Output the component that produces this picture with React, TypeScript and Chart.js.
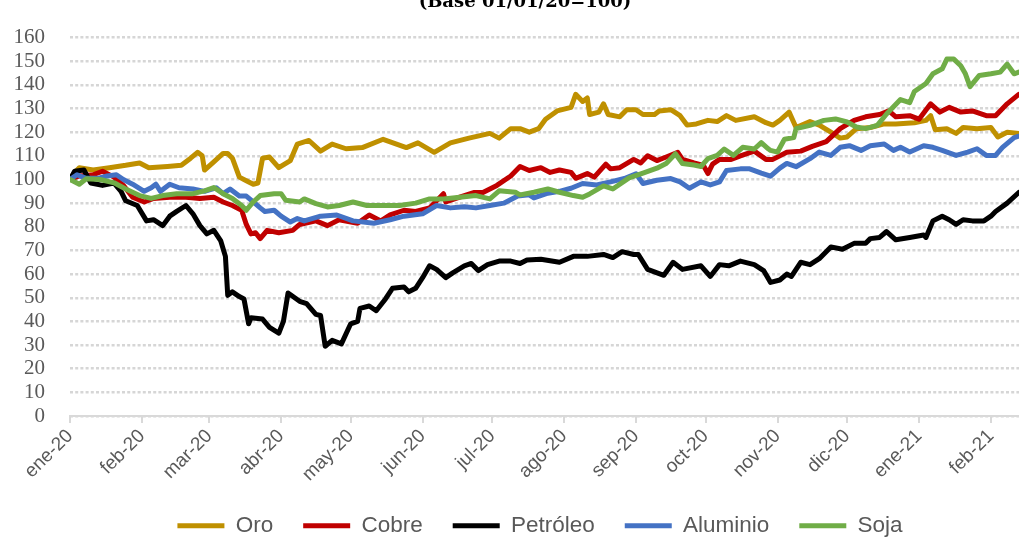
import React, { useEffect, useRef } from "react";
import { Chart, registerables } from "chart.js";

Chart.register(...registerables);

const titleText = "(Base 01/01/20=100)";

const monthLabels = [
  "ene-20", "feb-20", "mar-20", "abr-20", "may-20", "jun-20", "jul-20",
  "ago-20", "sep-20", "oct-20", "nov-20", "dic-20", "ene-21", "feb-21",
];
// days since 01/01/2020 for the first day of each month
const monthStartDays = monthLabels.map(
  (_, i) => (Date.UTC(2020, i, 1) - Date.UTC(2020, 0, 1)) / 86400000
);

const yTicks = [0, 10, 20, 30, 40, 50, 60, 70, 80, 90, 100, 110, 120, 130, 140, 150, 160];

// Oro
const oroDays = [0, 2, 4, 10, 17, 24, 30, 34, 42, 48, 52, 55, 57, 58, 62, 66, 68, 70, 73, 76, 79, 81, 83, 86, 90, 95, 98, 103, 108, 113, 119, 126, 135, 145, 150, 157, 164, 172, 181, 185, 190, 194, 198, 202, 205, 210, 216, 218, 221, 223, 224, 228, 230, 232, 237, 240, 244, 247, 252, 254, 259, 263, 266, 270, 275, 279, 283, 287, 295, 300, 303, 306, 310, 313, 319, 323, 328, 332, 335, 339, 345, 351, 356, 364, 369, 371, 373, 378, 382, 385, 391, 397, 400, 404, 409];
const oroValues = [100, 103, 105, 104, 105, 106, 107, 105, 105.5, 106, 109, 111.5, 110, 104, 107.5, 111, 111, 109, 101, 99.5, 98, 98.5, 109, 109.5, 105, 108, 115, 116.5, 112, 115, 113, 113.5, 117, 113.5, 115.5, 111.5, 115.5, 117.5, 119.5, 117.5, 121.5, 121.5, 120, 121.5, 125.5, 129, 130.5, 136, 133, 134.5, 127.5, 128.5, 132, 127.5, 126.5, 129.5, 129.5, 127.5, 127.5, 129, 129.5, 127, 123, 123.5, 125, 124.5, 127, 125, 126.5, 124, 123, 125, 128.5, 122, 124.5, 123, 120, 117.5, 118, 121.5, 122, 123.5, 123.5, 124, 125, 127, 121, 121.5, 119.5, 122, 121.5, 122, 118, 120, 119.5];

// Cobre
const cobreDays = [0, 4, 10, 14, 19, 23, 27, 32, 36, 43, 50, 56, 62, 66, 70, 74, 76, 78, 80, 82, 85, 90, 96, 99, 106, 111, 116, 124, 129, 134, 138, 144, 149, 155, 161, 162, 168, 174, 178, 184, 190, 194, 198, 203, 207, 211, 216, 218, 223, 226, 231, 233, 237, 243, 246, 249, 253, 257, 262, 264, 269, 273, 275, 277, 280, 285, 289, 295, 300, 303, 309, 315, 320, 326, 332, 338, 343, 349, 353, 356, 362, 366, 371, 375, 379, 384, 389, 395, 399, 404, 409];
const cobreValues = [100, 101.5, 102, 103.5, 101, 97.5, 92.5, 90.5, 92, 92.5, 92.5, 92, 92.5, 90.5, 89, 87, 81, 77, 77.5, 75, 78.5, 77.5, 78.5, 81, 82.5, 80.5, 83, 81.5, 85, 82.5, 85, 87, 86.5, 88, 94, 90.5, 92.5, 94.5, 94.5, 97.5, 101.5, 105.5, 103.8, 105, 103, 104, 103, 100.5, 102.5, 101, 106.5, 104.5, 105, 108.5, 107, 110, 108, 109.5, 111.5, 108.5, 107, 106, 102.5, 106.5, 108.5, 108.5, 110, 112, 108.5, 108.5, 111.5, 112, 114, 116, 121.5, 125, 126.5, 127.5, 129, 126.5, 127, 125.5, 132, 128.5, 130.5, 128.5, 129, 127, 127, 132, 136];

// Petróleo
const petroleoDays = [0, 2, 6, 9, 14, 19, 22, 24, 29, 33, 36, 40, 43, 46, 50, 53, 56, 59, 62, 65, 67, 68, 70, 73, 75, 77, 78, 83, 86, 90, 92, 94, 99, 102, 106, 108, 110, 113, 117, 121, 124, 125, 129, 132, 136, 139, 144, 146, 149, 152, 155, 158, 162, 165, 170, 173, 176, 180, 185, 190, 194, 197, 203, 211, 217, 223, 230, 234, 238, 243, 245, 249, 256, 260, 264, 272, 276, 280, 284, 289, 295, 299, 302, 306, 309, 311, 315, 319, 323, 328, 333, 338, 343, 345, 349, 352, 356, 362, 368, 369, 372, 376, 379, 382, 385, 389, 394, 397, 399, 404, 409];
const petroleoValues = [100, 103.5, 104, 98.5, 97.5, 98.5, 95, 91, 89, 82.5, 83, 80.5, 84.5, 86.5, 89, 85.5, 80.5, 77, 78.5, 74, 67.5, 51, 52.5, 50.5, 49.5, 39, 41.5, 41, 37.5, 35, 40, 52, 48.5, 47.5, 43, 42.5, 29.5, 32, 30.5, 39, 40, 45.5, 46.5, 44.5, 49.5, 54, 54.5, 52.5, 54, 58.5, 63.5, 62, 58.5, 60.5, 63.5, 64.5, 61.5, 64, 65.5, 65.5, 64.5, 66, 66.3, 65, 67.5, 67.5, 68.3, 67, 69.5, 68.3, 68.3, 62, 59.5, 65, 62, 63.5, 59, 64, 63.5, 65.5, 64, 61.5, 56.5, 57.5, 60, 59, 65, 64, 66.5, 71.5, 70.5, 73, 73, 75, 75.5, 78, 74.5, 75.5, 76.5, 75.5, 82.5, 84.5, 83, 81, 83, 82.5, 82.5, 84.5, 86.5, 90, 94.5];

// Aluminio
const aluminioDays = [0, 3, 7, 12, 16, 20, 23, 27, 32, 35, 37, 39, 43, 47, 53, 58, 63, 66, 69, 73, 76, 79, 82, 84, 88, 91, 95, 98, 101, 108, 115, 122, 131, 138, 144, 152, 158, 164, 170, 175, 181, 187, 193, 198, 200, 206, 211, 216, 221, 227, 233, 239, 244, 247, 253, 259, 263, 267, 272, 276, 280, 283, 289, 293, 298, 302, 306, 309, 313, 319, 323, 328, 332, 336, 341, 345, 351, 355, 358, 362, 368, 372, 376, 382, 387, 391, 395, 399, 402, 407, 409];
const aluminioValues = [100, 102, 100.5, 100.5, 101.5, 102, 100, 98, 95, 96.5, 98, 95, 98, 96.5, 96, 95, 96.5, 94, 96, 93, 93, 90.5, 88, 86.5, 87, 84.5, 82, 83.5, 82.5, 84.5, 85, 82.5, 81.5, 83, 84.5, 85.5, 89, 88, 88.5, 88, 89, 90, 93, 93.5, 92.2, 94.2, 95, 96.3, 98.3, 97.7, 99, 100.4, 102.4, 98.3, 99.7, 100.4, 99, 96.3, 99, 97.7, 99, 103.8, 104.5, 104.5, 102.7, 101.4, 104.8, 106.8, 105.4, 108.8, 111.6, 110.2, 113.6, 114.3, 112.3, 114.3, 115, 112.3, 113.6, 111.6, 114.3, 113.6, 112.3, 110.2, 111.6, 113, 110.2, 110.2, 113.6, 117.7, 118.3];

// Soja
const sojaDays = [0, 4, 7, 13, 19, 24, 30, 35, 40, 46, 53, 58, 62, 66, 70, 74, 76, 79, 82, 88, 91, 93, 99, 101, 106, 111, 116, 122, 128, 135, 142, 149, 155, 161, 168, 175, 181, 185, 192, 194, 200, 206, 211, 217, 221, 224, 230, 234, 241, 247, 253, 257, 261, 264, 269, 272, 275, 279, 282, 286, 290, 295, 298, 301, 302, 305, 308, 312, 313, 319, 325, 330, 335, 339, 343, 348, 352, 358, 362, 364, 369, 372, 376, 378, 381, 384, 386, 388, 392, 397, 401, 404, 407, 409];
const sojaValues = [100, 98, 100.3, 100, 98.6, 96, 93.2, 92, 93.2, 94, 94, 95.2, 96.6, 94, 92, 89, 87, 90.5, 93.2, 94, 94, 91.2, 90.5, 91.8, 89.8, 88.4, 89, 90.5, 89, 89, 89, 90, 91.8, 91.8, 92.5, 93.2, 91.8, 95.2, 94.6, 93.5, 94.6, 96, 94.6, 93.2, 92.5, 93.9, 97.3, 96, 100.7, 102.7, 104.8, 106.8, 110.9, 106.8, 106.1, 105.5, 108.8, 110.2, 112.9, 110.2, 113.6, 112.9, 115.6, 113, 112.3, 111.6, 117, 117.7, 121.5, 122.9, 125, 125.6, 124.3, 122.2, 121.5, 122.9, 127.7, 133.8, 132.5, 137.2, 140.6, 144.7, 146.8, 150.9, 150.9, 148.1, 144.7, 139.3, 144, 144.7, 145.4, 148.8, 144.7, 145.4];

const seriesNames = ["Oro", "Cobre", "Petróleo", "Aluminio", "Soja"];
const seriesColors = ["#BF9000", "#C00000", "#000000", "#4472C4", "#70AD47"];
const seriesDays = [oroDays, cobreDays, petroleoDays, aluminioDays, sojaDays];
const seriesValues = [oroValues, cobreValues, petroleoValues, aluminioValues, sojaValues];

const titlePlugin = {
  id: "topTitle",
  afterDraw(chart: any) {
    const ctx = chart.ctx;
    ctx.save();
    ctx.font = 'bold 18px "DejaVu Serif"';
    ctx.fillStyle = "#000000";
    ctx.textAlign = "center";
    ctx.textBaseline = "alphabetic";
    ctx.fillText(titleText, 525, 7);
    ctx.restore();
  },
};

export default function App() {
  const canvasRef = useRef<HTMLCanvasElement | null>(null);

  useEffect(() => {
    if (!canvasRef.current) return;
    const datasets = seriesNames.map((name, k) => ({
      label: name,
      data: seriesDays[k].map((d, i) => ({ x: d, y: seriesValues[k][i] })),
      borderColor: seriesColors[k],
      backgroundColor: seriesColors[k],
      borderWidth: 5,
      pointRadius: 0,
      tension: 0,
      borderJoinStyle: "round" as const,
      borderCapStyle: "round" as const,
      order: seriesNames.length - k,
    }));

    const chart = new Chart(canvasRef.current, {
      type: "line",
      data: { datasets },
      plugins: [titlePlugin],
      options: {
        animation: false,
        responsive: false,
        maintainAspectRatio: false,
        layout: { padding: { top: 10, left: 0, right: 2, bottom: 0 } },
        scales: {
          x: {
            type: "linear",
            min: 0,
            max: 435.4,
            afterBuildTicks: (scale: any) => {
              scale.ticks = monthStartDays.map((v) => ({ value: v }));
            },
            afterFit: (scale: any) => {
              scale.height = 68.5;
            },
            ticks: {
              autoSkip: false,
              minRotation: 45,
              maxRotation: 45,
              color: "#595959",
              padding: 2,
              font: { family: "'Liberation Sans', sans-serif", size: 19 },
              callback: (value: any) => {
                const idx = monthStartDays.indexOf(Number(value));
                return idx >= 0 ? monthLabels[idx] : "";
              },
            },
            grid: {
              drawOnChartArea: false,
              drawTicks: true,
              tickLength: 7,
              color: "#d9d9d9",
              lineWidth: 2,
            },
            border: { display: true, color: "#d9d9d9", width: 2 },
          },
          y: {
            min: 0,
            max: 160,
            afterBuildTicks: (scale: any) => {
              scale.ticks = yTicks.map((v) => ({ value: v }));
            },
            afterFit: (scale: any) => {
              scale.width = 70;
            },
            ticks: {
              autoSkip: false,
              color: "#595959",
              padding: 25,
              font: { family: "'Liberation Serif', serif", size: 21 },
            },
            grid: {
              color: "#d6d6d6",
              lineWidth: 2.5,
              drawTicks: false,
            },
            border: { display: false, dash: [3, 2.2] },
          },
        },
        plugins: {
          tooltip: { enabled: false },
          title: { display: false },
          legend: {
            display: true,
            position: "bottom",
            align: "center",
            labels: {
              usePointStyle: true,
              pointStyle: "line",
              pointStyleWidth: 47,
              color: "#595959",
              padding: 30,
              font: { family: "'Liberation Sans', sans-serif", size: 22.5 },
              sort: (a: any, b: any) => a.datasetIndex - b.datasetIndex,
            },
          },
        },
      },
    });
    return () => chart.destroy();
  }, []);

  return (
    <div
      style={{
        position: "fixed",
        left: 0,
        top: 0,
        width: 1019,
        height: 537,
        overflow: "hidden",
        background: "#ffffff",
      }}
    >
      <canvas
        ref={canvasRef}
        width={1082}
        height={547}
        style={{ display: "block", width: 1082, height: 547 }}
      />
    </div>
  );
}
